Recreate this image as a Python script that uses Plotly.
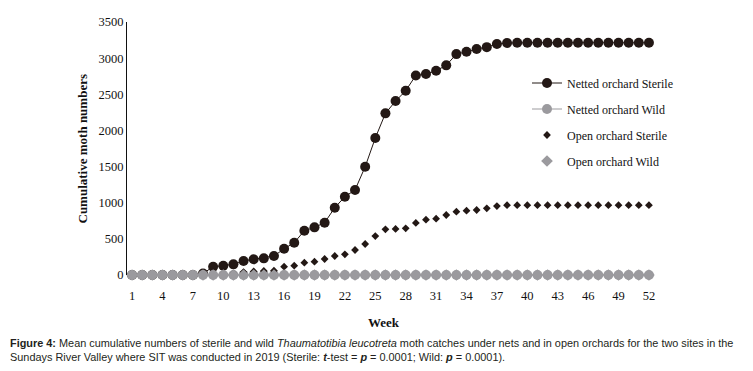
import plotly.graph_objects as go

weeks = list(range(1, 53))
tick_weeks = list(range(1, 53, 3))

netted_sterile = [0, 0, 0, 0, 0, 0, 0, 20, 115, 129, 147, 194, 217, 230, 263, 362,
                  447, 613, 659, 724, 931, 1083, 1176, 1498, 1895, 2236, 2406, 2549,
                  2761, 2780, 2826, 2900, 3056, 3088, 3126, 3152, 3195, 3209,
                  3213, 3213, 3213, 3213, 3213, 3213, 3213, 3213, 3213, 3213, 3213, 3213, 3213, 3213]
netted_wild = [0] * 52
open_sterile = [0, 0, 0, 0, 0, 0, 0, 0, 10, 15, 20, 40, 50, 55, 60, 115, 129, 170, 184,
                221, 263, 286, 346, 429, 539, 632, 638, 646, 720, 766, 779, 830, 876,
                890, 899, 922, 954, 966,
                966, 966, 966, 966, 966, 966, 966, 966, 966, 966, 966, 966, 966, 966]
open_wild = [0] * 52

BLACK = "#231815"
GRAY = "#9b9a9e"
OFF = 8  # page body margin
W, H = 753 - OFF, 371 - OFF
L, R, T, B = 119, 99, 14, 96
PW, PH = W - L - R, H - T - B


def px_x(px):
    return (px - OFF - L) / PW


def px_y(py):
    return (H - B - (py - OFF)) / PH


fig = go.Figure()
fig.add_trace(go.Scatter(x=weeks, y=netted_sterile, name="Netted orchard Sterile",
                         mode="lines+markers", line=dict(color=BLACK, width=1),
                         marker=dict(symbol="circle", size=10, color=BLACK),
                         cliponaxis=False, legendgroup="a"))
fig.add_trace(go.Scatter(x=weeks, y=netted_wild, name="Netted orchard Wild",
                         mode="lines+markers", line=dict(color=GRAY, width=1),
                         marker=dict(symbol="circle", size=10, color=GRAY),
                         cliponaxis=False, legendgroup="b"))
fig.add_trace(go.Scatter(x=weeks, y=open_sterile, name="Open orchard Sterile",
                         mode="markers",
                         marker=dict(symbol="diamond", size=6, color=BLACK),
                         cliponaxis=False, legendgroup="c"))
fig.add_trace(go.Scatter(x=weeks, y=open_wild, name="Open orchard Wild",
                         mode="markers",
                         marker=dict(symbol="diamond", size=9, color=GRAY),
                         cliponaxis=False, legendgroup="d"))

serif = "Liberation Serif"
fig.update_layout(
    width=W, height=H,
    margin=dict(l=L, r=R, t=T, b=B, autoexpand=False),
    paper_bgcolor="white", plot_bgcolor="white",
    font=dict(family=serif, size=12.5, color="#111111"),
    showlegend=True,
    legend=dict(xref="paper", yref="paper", x=px_x(527), y=px_y(68.5),
                xanchor="left", yanchor="top", tracegroupgap=7,
                font=dict(family=serif, size=12, color="#111111"),
                bgcolor="rgba(0,0,0,0)", itemsizing="trace"),
    xaxis=dict(range=[0.5, 52.5], tickmode="array", tickvals=tick_weeks,
               showgrid=False, zeroline=False, showline=False, ticks="",
               ticklabelstandoff=11, automargin=False,
               tickfont=dict(family=serif, size=12.5, color="#111111")),
    yaxis=dict(range=[0, 3500], dtick=500, showgrid=False, zeroline=False,
               showline=True, linecolor="#111111", linewidth=1, ticks="",
               automargin=False,
               tickfont=dict(family=serif, size=12.5, color="#111111")),
)

fig.add_annotation(text="<b>Cumulative moth numbers</b>", xref="paper", yref="paper",
                   x=px_x(82), y=0.5, textangle=-90, showarrow=False,
                   font=dict(family=serif, size=13, color="#111111"),
                   xanchor="center", yanchor="middle")
fig.add_annotation(text="<b>Week</b>", xref="paper", yref="paper",
                   x=px_x(384), y=px_y(322),
                   showarrow=False, font=dict(family=serif, size=13, color="#111111"),
                   xanchor="center", yanchor="middle")

caption = ("<b>Figure 4:</b> Mean cumulative numbers of sterile and wild <i>Thaumatotibia leucotreta</i> "
           "moth catches under nets and in open orchards for the two sites in the<br>"
           "Sundays River Valley where SIT was conducted in 2019 (Sterile: <b><i>t</i></b>-test = "
           "<b><i>p</i></b> = 0.0001; Wild: <b><i>p</i></b> = 0.0001).")
fig.add_annotation(text=caption, xref="paper", yref="paper",
                   x=px_x(OFF), y=px_y(335), xanchor="left", yanchor="top", align="left",
                   showarrow=False,
                   font=dict(family="Liberation Sans", size=10.9, color="#231f20"))

fig.write_html("out.html")
